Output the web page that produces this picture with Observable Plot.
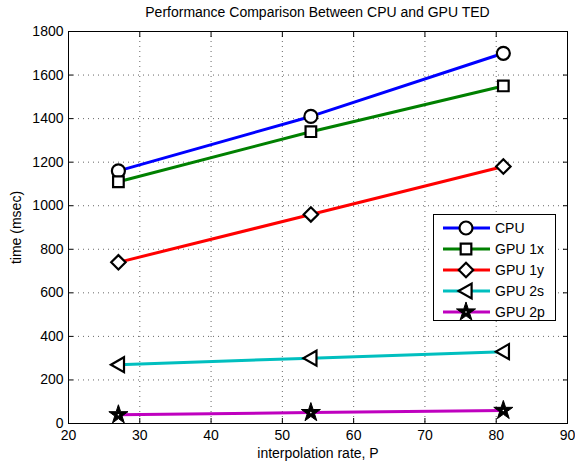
<!DOCTYPE html>
<html><head><meta charset="utf-8">
<script src="https://cdn.jsdelivr.net/npm/d3@7"></script>
<script src="https://cdn.jsdelivr.net/npm/@observablehq/plot@0.6"></script>
<style>
body{margin:0;background:#fff;font-family:"Liberation Sans",Arial,sans-serif;}
#wrap{position:relative;width:575px;height:464px;}
#title{position:absolute;left:68px;width:499px;top:4px;text-align:center;font-size:14px;color:#000;}
#legend{position:absolute;left:433px;top:214px;}
</style></head>
<body><div id="wrap"><div id="title">Performance Comparison Between CPU and GPU TED</div><div id="chart"></div><div id="legend"></div></div>
<script>
const P = [27, 54, 81];
const seriesNames = ["CPU", "GPU 1x", "GPU 1y", "GPU 2s", "GPU 2p"];
const cpu = [1160, 1410, 1700];
const gpu1x = [1110, 1340, 1550];
const gpu1y = [740, 960, 1180];
const gpu2s = [270, 300, 330];
const gpu2p = [40, 50, 60];
const xTicks = [20, 30, 40, 50, 60, 70, 80, 90];
const yTicks = [0, 200, 400, 600, 800, 1000, 1200, 1400, 1600, 1800];
const colors = ["#0000ff", "#008000", "#ff0000", "#00bfbf", "#bf00bf"];

const leftTri = {draw(ctx, size){const s = Math.sqrt(size/Math.PI)*1.15; ctx.moveTo(-s,0); ctx.lineTo(s*0.75,-s); ctx.lineTo(s*0.75,s); ctx.closePath();}};
const symbols = ["circle", "square", "diamond2", leftTri, "star"];
const d3sym = [d3.symbolCircle, d3.symbolSquare, d3.symbolDiamond2, leftTri, d3.symbolStar];
const radii = [6.5, 6, 6.5, 6.5, 6];

const allVals = [cpu, gpu1x, gpu1y, gpu2s, gpu2p];
const data = [];
allVals.forEach((vals, i) => vals.forEach((v, j) => data.push({series: seriesNames[i], p: P[j], t: v, idx: i})));

const font = "Liberation Sans, Arial, sans-serif";
const marks = [
  Plot.gridX(xTicks, {stroke: "#000", strokeOpacity: 0.6, strokeDasharray: "1,4"}),
  Plot.gridY(yTicks, {stroke: "#000", strokeOpacity: 0.6, strokeDasharray: "1,4"}),
  Plot.axisX(xTicks, {tickSize: -5, tickPadding: 12, fontSize: 14, tickFormat: d3.format("d"), label: "interpolation rate, P", labelAnchor: "center", labelArrow: "none", labelOffset: 34}),
  Plot.axisX(xTicks, {anchor: "top", tickSize: -5, tickFormat: () => "", label: null}),
  Plot.axisY(yTicks, {tickSize: -5, tickPadding: 10, fontSize: 14, tickFormat: d3.format("d"), label: "time (msec)", labelAnchor: "center", labelArrow: "none", labelOffset: 57}),
  Plot.axisY(yTicks, {anchor: "right", tickSize: -5, tickFormat: () => "", label: null}),
];
seriesNames.forEach((name, i) => {
  const d = data.filter(r => r.idx === i);
  marks.push(Plot.line(d, {x: "p", y: "t", stroke: colors[i], strokeWidth: 3}));
});
seriesNames.forEach((name, i) => {
  const d = data.filter(r => r.idx === i);
  const star = i === 4;
  marks.push(Plot.dot(d, {x: "p", y: "t", symbol: () => symbols[i], r: radii[i], stroke: "#000", strokeWidth: star ? 1 : 2.2, fill: star ? "#000" : "#fff"}));
  if (star) marks.push(Plot.dot(d, {x: "p", y: "t", r: 0.8, fill: "#fff"}));
});
marks.push(Plot.frame({stroke: "#000", strokeWidth: 1}));

const chart = Plot.plot({
  width: 575, height: 464,
  marginLeft: 68, marginRight: 8, marginTop: 31, marginBottom: 41,
  style: {fontFamily: font, fontSize: "14px", color: "#000", background: "#fff"},
  x: {domain: [20, 90], axis: null},
  y: {domain: [0, 1800], axis: null},
  symbol: {type: "identity"},
  marks
});
document.getElementById("chart").appendChild(chart);

// legend
const lw = 122, lh = 106;
const svg = d3.select("#legend").append("svg").attr("width", lw + 2).attr("height", lh + 2);
svg.append("rect").attr("x", 0.5).attr("y", 0.5).attr("width", lw).attr("height", lh).attr("fill", "#fff").attr("stroke", "#000");
seriesNames.forEach((name, i) => {
  const y = 14 + i * 21;
  const g = svg.append("g");
  g.append("line").attr("x1", 10).attr("x2", 57).attr("y1", y).attr("y2", y).attr("stroke", colors[i]).attr("stroke-width", 3);
  const r = radii[i];
  g.append("path").attr("transform", `translate(33,${y})`).attr("d", d3.symbol(d3sym[i], Math.PI * r * r)())
    .attr("fill", i === 4 ? "#000" : "#fff").attr("stroke", "#000").attr("stroke-width", i === 4 ? 1 : 2.2);
  if (i === 4) g.append("circle").attr("cx", 33).attr("cy", y).attr("r", 0.8).attr("fill", "#fff");
  g.append("text").attr("x", 62).attr("y", y).attr("dy", "0.35em").attr("font-family", font).attr("font-size", 14).text(name);
});
</script></body></html>
